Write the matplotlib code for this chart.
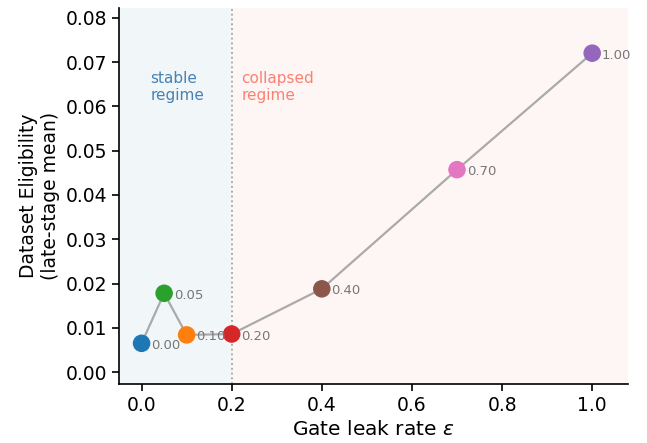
import matplotlib
matplotlib.use("Agg")
import matplotlib.pyplot as plt

eps = [0.00, 0.05, 0.10, 0.20, 0.40, 0.70, 1.00]
elig = [0.0065, 0.0178, 0.0084, 0.0086, 0.0188, 0.0457, 0.0720]
labels = ["0.00", "0.05", "0.10", "0.20", "0.40", "0.70", "1.00"]
colors = ["#1f77b4", "#2ca02c", "#ff7f0e", "#d62728", "#8c564b", "#e377c2", "#9467bd"]
threshold = 0.2

fig = plt.figure(figsize=(6.47, 4.43), dpi=100)
ax = fig.add_axes([0.184, 0.133, 0.787, 0.849])

ax.axvspan(-0.05, threshold, color="#4682b4", alpha=0.07, lw=0)
ax.axvspan(threshold, 1.08, color="#fa8072", alpha=0.07, lw=0)
ax.axvline(threshold, color="grey", ls=":", lw=1.3, alpha=0.7)

ax.plot(eps, elig, color="#aaaaaa", lw=1.6, zorder=2)
ax.scatter(eps, elig, c=colors, s=135, zorder=3)
for x, y, t in zip(eps, elig, labels):
    ax.annotate(t, (x, y), xytext=(7, -1.5), textcoords="offset points",
                fontsize=9.5, color="#777777", va="center")

ax.text(0.02, 0.0643, "stable\nregime", color="#4682b4", fontsize=11,
        va="center", linespacing=1.15)
ax.text(0.222, 0.0643, "collapsed\nregime", color="#fa8072", fontsize=11,
        va="center", linespacing=1.15)

ax.set_xlim(-0.05, 1.08)
ax.set_ylim(-0.0027, 0.0822)
ax.set_yticks([0, 0.01, 0.02, 0.03, 0.04, 0.05, 0.06, 0.07, 0.08])
ax.tick_params(labelsize=13.5, width=1.2, length=5)
ax.set_xlabel("Gate leak rate $\\varepsilon$", fontsize=14.5)
ax.set_ylabel("Dataset Eligibility\n(late-stage mean)", fontsize=13.5)
for s in ["top", "right"]:
    ax.spines[s].set_visible(False)
for s in ["left", "bottom"]:
    ax.spines[s].set_linewidth(1.2)

fig.savefig("out.png", dpi=100)
